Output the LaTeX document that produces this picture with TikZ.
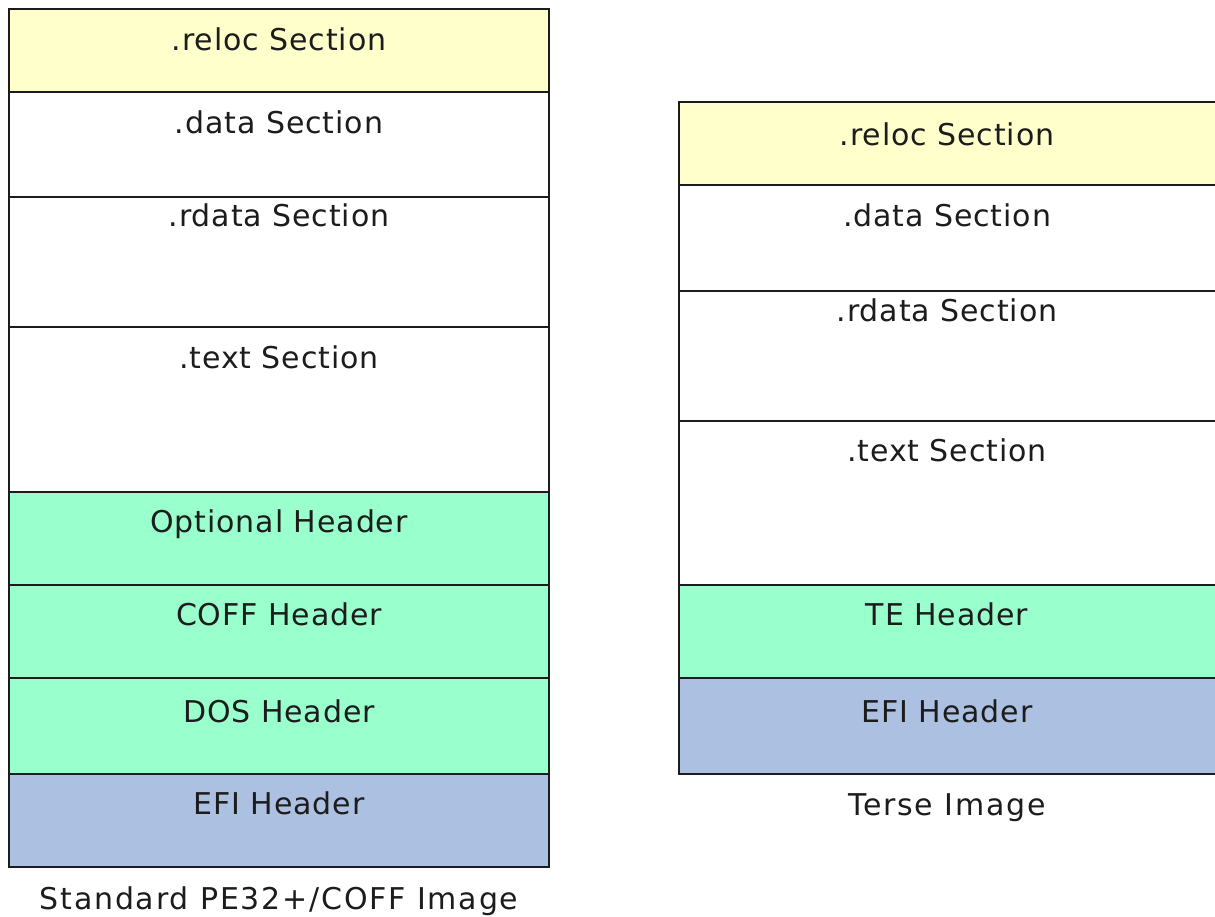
\documentclass[tikz,border=0pt]{standalone}
\usepackage{fontspec}
\setmainfont{DejaVu Sans}[LetterSpace=3]
\newfontfamily\capfont{DejaVu Sans}[LetterSpace=6]
\definecolor{relocfill}{RGB}{255,255,204}
\definecolor{hdrfill}{RGB}{153,255,204}
\definecolor{efifill}{RGB}{172,192,226}
\definecolor{inkcol}{RGB}{28,28,28}
\tikzset{
  seg/.style={draw=inkcol, line width=1pt, fill=white},
  lbl/.style={anchor=base, inner sep=0pt, text=inkcol, font=\fontsize{15}{17}\selectfont},
  captxt/.style={lbl, font=\capfont\fontsize{15}{17}\selectfont}
}
\begin{document}
\begin{tikzpicture}[x=0.5pt, y=-0.5pt]
\useasboundingbox (0,0) rectangle (1215,916);
% ---- standard PE32+/COFF image (left stack) ----
\path[seg, fill=relocfill] (9,9) rectangle (549,92) node[pos=0.5, draw=none] (Lreloc) {};
\path[seg] (9,92) rectangle (549,197) node[pos=0.5, draw=none] (Ldata) {};
\path[seg] (9,197) rectangle (549,327) node[pos=0.5, draw=none] (Lrdata) {};
\path[seg] (9,327) rectangle (549,492) node[pos=0.5, draw=none] (Ltext) {};
\path[seg, fill=hdrfill] (9,492) rectangle (549,585) node[pos=0.5, draw=none] (Lopt) {};
\path[seg, fill=hdrfill] (9,585) rectangle (549,678) node[pos=0.5, draw=none] (Lcoff) {};
\path[seg, fill=hdrfill] (9,678) rectangle (549,774) node[pos=0.5, draw=none] (Ldos) {};
\path[seg, fill=efifill] (9,774) rectangle (549,867) node[pos=0.5, draw=none] (Lefi) {};
\node[lbl] (tLreloc) at (279,50) {.reloc Section};
\node[lbl] (tLdata)  at (279,133) {.data Section};
\node[lbl] (tLrdata) at (279,226) {.rdata Section};
\node[lbl] (tLtext)  at (279,368) {.text Section};
\node[lbl] (tLopt)   at (279,532) {Optional Header};
\node[lbl] (tLcoff)  at (279,625) {COFF Header};
\node[lbl] (tLdos)   at (279,722) {DOS Header};
\node[lbl] (tLefi)   at (279,814) {EFI Header};
\node[captxt] (capL) at (279,909) {Standard PE32+/COFF Image};
% ---- terse image (right stack) ----
\path[seg, fill=relocfill] (679,102) rectangle (1218,185) node[pos=0.5, draw=none] (Rreloc) {};
\path[seg] (679,185) rectangle (1218,291) node[pos=0.5, draw=none] (Rdata) {};
\path[seg] (679,291) rectangle (1218,421) node[pos=0.5, draw=none] (Rrdata) {};
\path[seg] (679,421) rectangle (1218,585) node[pos=0.5, draw=none] (Rtext) {};
\path[seg, fill=hdrfill] (679,585) rectangle (1218,678) node[pos=0.5, draw=none] (Rte) {};
\path[seg, fill=efifill] (679,678) rectangle (1218,774) node[pos=0.5, draw=none] (Refi) {};
\node[lbl] (tRreloc) at (947,145) {.reloc Section};
\node[lbl] (tRdata)  at (947,226) {.data Section};
\node[lbl] (tRrdata) at (947,321) {.rdata Section};
\node[lbl] (tRtext)  at (947,461) {.text Section};
\node[lbl] (tRte)    at (947,625) {TE Header};
\node[lbl] (tRefi)   at (947,722) {EFI Header};
\node[captxt] (capR) at (947,815) {Terse Image};
\end{tikzpicture}
\end{document}
